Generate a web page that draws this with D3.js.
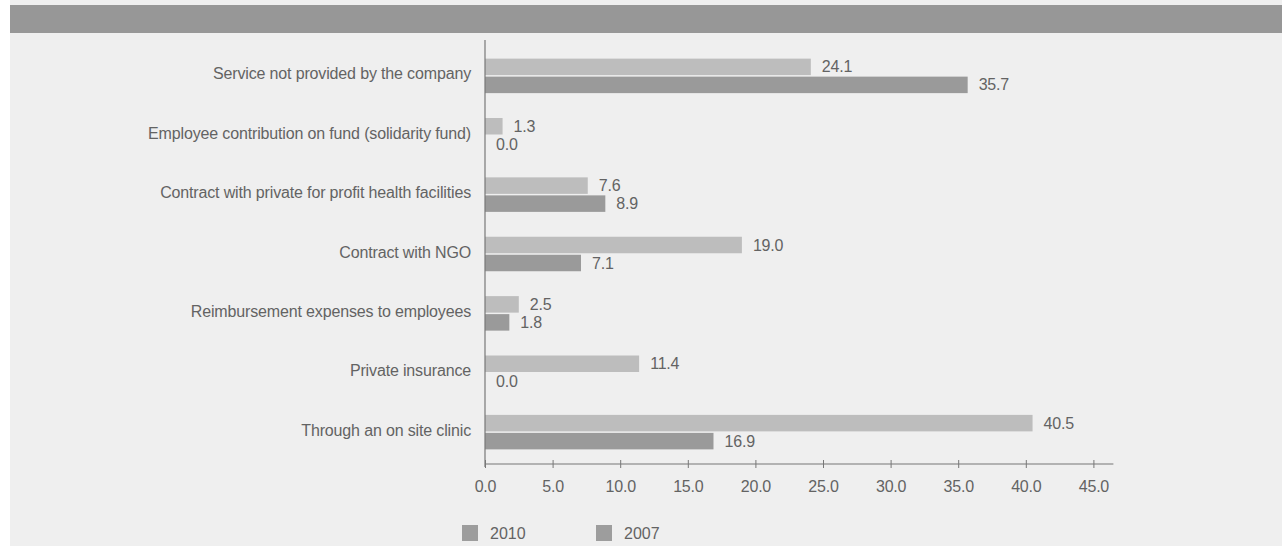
<!DOCTYPE html>
<html><head><meta charset="utf-8">
<script src="https://cdn.jsdelivr.net/npm/d3@7"></script>
<style>
html,body{margin:0;padding:0;background:#fff;}
svg{display:block;}
text{font-family:"Liberation Sans",Arial,Helvetica,sans-serif;}
</style></head>
<body>
<script>
const categories = [
  "Service not provided by the company",
  "Employee contribution on fund (solidarity fund)",
  "Contract with private for profit health facilities",
  "Contract with NGO",
  "Reimbursement expenses to employees",
  "Private insurance",
  "Through an on site clinic"
];
const values2010 = [24.1, 1.3, 7.6, 19.0, 2.5, 11.4, 40.5];
const values2007 = [35.7, 0.0, 8.9, 7.1, 1.8, 0.0, 16.9];
const seriesNames = ["2010", "2007"];
const tickValues = [0, 5, 10, 15, 20, 25, 30, 35, 40, 45];

const W = 1282, H = 546;
const svg = d3.select("body").append("svg").attr("width", W).attr("height", H);

// backgrounds
svg.append("rect").attr("x",0).attr("y",0).attr("width",W).attr("height",H).attr("fill","#ffffff");
svg.append("rect").attr("x",10).attr("y",0).attr("width",W-10).attr("height",H).attr("fill","#efefef");
svg.append("rect").attr("x",10).attr("y",5).attr("width",W-10).attr("height",28).attr("fill","#979797");

const x0 = 485;
const x = d3.scaleLinear().domain([0, 45]).range([x0, x0 + 45*13.52]);
const y = d3.scaleBand().domain(categories).range([45, 463]).paddingInner(0.36).paddingOuter(0.2);

const colors = {"2010":"#bdbdbd","2007":"#9a9a9a"};
const textColor = "#636363";
const FS = 16;

const barH = 16.5, gap = 1.5;
const g = svg.append("g");

categories.forEach((c, i) => {
  const yc = y(c) + y.bandwidth()/2;
  const rows = [
    {s:"2010", v: values2010[i], y: yc - gap/2 - barH},
    {s:"2007", v: values2007[i], y: yc + gap/2}
  ];
  rows.forEach(r => {
    if (r.v > 0) {
      g.append("rect").attr("x", x(0)).attr("y", r.y)
        .attr("width", x(r.v) - x(0)).attr("height", barH)
        .attr("fill", colors[r.s]);
    }
    g.append("text").attr("x", x(r.v) + 11).attr("y", r.y + barH/2)
      .attr("dy","0.35em").attr("font-size", FS).attr("fill", textColor)
      .attr("letter-spacing","-0.2")
      .text(r.v.toFixed(1));
  });
  g.append("text").attr("x", 471).attr("y", yc - 2).attr("dy","0.35em")
    .attr("text-anchor","end").attr("font-size", FS).attr("fill", textColor)
    .attr("letter-spacing","-0.15")
    .text(c);
});

// vertical axis line
svg.append("line").attr("x1", x0).attr("x2", x0).attr("y1", 40).attr("y2", 467)
  .attr("stroke","#777").attr("stroke-width",1.2);

// x axis
const axisY = 464;
const ax = svg.append("g").attr("transform", `translate(0,${axisY})`)
  .call(d3.axisBottom(x).tickValues(tickValues).tickFormat(d3.format(".1f")).tickSize(4).tickPadding(13));
ax.select(".domain").attr("d", `M${x0},0H${x(45)+20}`).attr("stroke","#777").attr("stroke-width",1.2);
ax.selectAll(".tick line").attr("y1",-4).attr("y2",4).attr("stroke","#777");
ax.selectAll(".tick text").attr("font-size",FS).attr("fill",textColor)
  .attr("letter-spacing","-0.2")
  .attr("font-family",'"Liberation Sans",Arial,Helvetica,sans-serif');

// legend
const legend = svg.append("g");
const legX = [462, 596];
seriesNames.forEach((s, i) => {
  legend.append("rect").attr("x", legX[i]).attr("y", 525).attr("width",16).attr("height",16)
    .attr("fill", "#9d9d9d");
  legend.append("text").attr("x", legX[i] + 28).attr("y", 533).attr("dy","0.35em")
    .attr("font-size",FS).attr("fill",textColor).text(s);
});
</script>
</body></html>
